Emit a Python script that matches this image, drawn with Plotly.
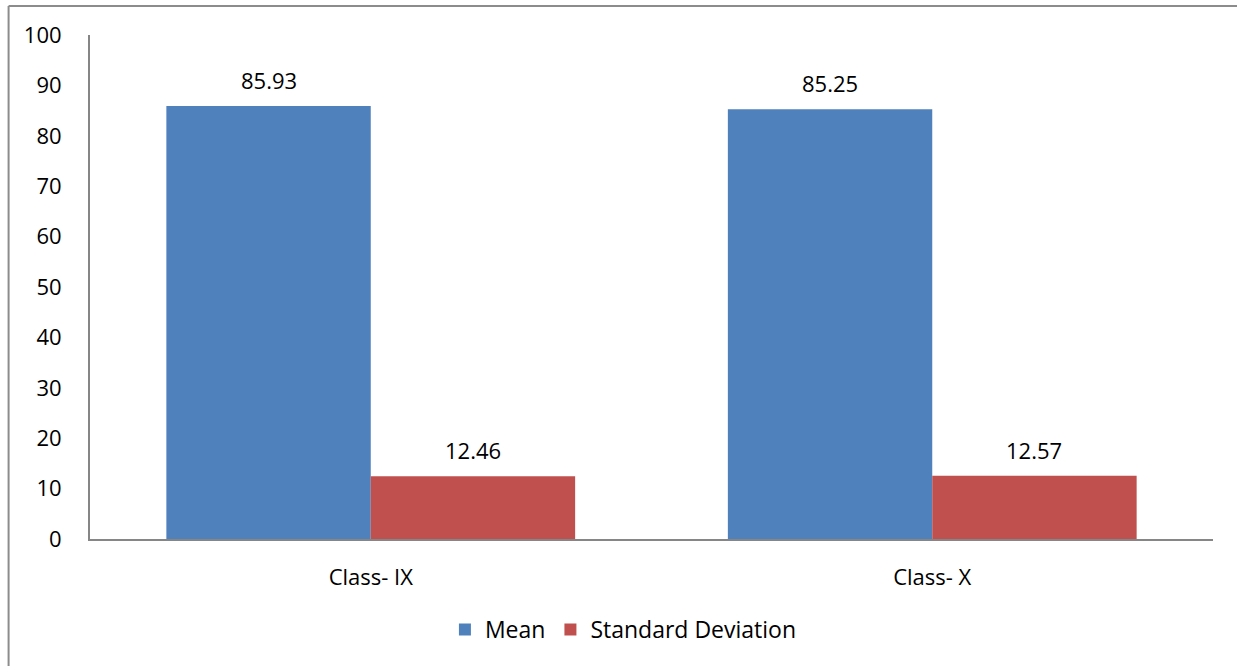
import plotly.graph_objects as go

categories = ["Class- IX", "Class- X"]
mean_values = [85.93, 85.25]
sd_values = [12.46, 12.57]
y_ticks = [0, 10, 20, 30, 40, 50, 60, 70, 80, 90, 100]

BLUE = "#4F81BD"
RED = "#C0504D"
AXIS = "#868686"
FONT = "Open Sans, Liberation Sans, sans-serif"

fig = go.Figure()
fig.add_trace(go.Bar(name="Mean", x=categories, y=mean_values, marker_color=BLUE,
                     marker_line_width=0))
fig.add_trace(go.Bar(name="Standard Deviation", x=categories, y=sd_values, marker_color=RED,
                     marker_line_width=0))

# value labels above each bar
bargap = 0.272
W, L, R = 1237, 90, 24
cat_px = (W - L - R) / len(categories)
half = cat_px * (1 - bargap) / 4
for vals, sign in ((mean_values, -1), (sd_values, 1)):
    for c, v in zip(categories, vals):
        fig.add_annotation(x=c, y=v, text=f"{v:.2f}", showarrow=False,
                           xshift=sign * half, yshift=26, yanchor="middle",
                           font=dict(family=FONT, size=22, color="#000"))

# outer chart border (left and top edges)
fig.add_shape(type="line", xref="paper", yref="paper", x0=-0.0725, x1=1.05,
              y0=1.0575, y1=1.0575, line=dict(color="#8c8c8c", width=2))
fig.add_shape(type="line", xref="paper", yref="paper", x0=-0.0725, x1=-0.0725,
              y0=1.0575, y1=-0.3, line=dict(color="#8c8c8c", width=2))

fig.update_layout(
    width=W, height=666,
    margin=dict(l=L, r=R, t=35, b=127),
    paper_bgcolor="white", plot_bgcolor="white",
    barmode="group", bargap=bargap, bargroupgap=0,
    font=dict(family=FONT, size=22, color="#000"),
    showlegend=True,
    legend=dict(orientation="h", x=0.475, xanchor="center", y=-0.137, yanchor="top",
                font=dict(size=23), itemwidth=30, traceorder="normal"),
    xaxis=dict(showline=True, linecolor=AXIS, linewidth=2, ticks="",
               tickfont=dict(size=22), showgrid=False, ticklabelstandoff=18),
    yaxis=dict(range=[0, 100], tickvals=y_ticks, showline=True, linecolor=AXIS,
               linewidth=2, ticks="", showgrid=False, zeroline=False,
               tickfont=dict(size=22), ticklabelstandoff=22),
)

fig.write_html("out.html")
